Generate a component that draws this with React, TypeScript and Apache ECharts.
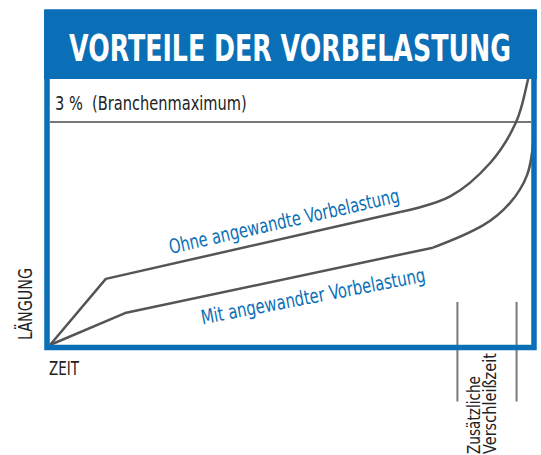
import React, { useEffect, useRef } from "react";
import * as echarts from "echarts";

const title = "VORTEILE DER VORBELASTUNG";
const limitLabel = "3 %  (Branchenmaximum)";
const limitValue = 3;
const yAxisName = "LÄNGUNG";
const xAxisName = "ZEIT";
const upperName = "Ohne angewandte Vorbelastung";
const lowerName = "Mit angewandter Vorbelastung";
const markerLines = ["Zusätzliche", "Verschleißzeit"];

// time (0..100) vs elongation (%)
const upperLinear = [[0, 0], [11.6, 0.89], [72.8, 1.79]];
const upperCurve = [[72.8, 1.79], [83.2, 2.0], [91.5, 2.45], [96.9, 3.0], [99.4, 3.58], [100.3, 3.9]];
const lowerLinear = [[0, 0], [15.6, 0.43], [79.6, 1.31]];
const lowerCurve = [[79.6, 1.31], [90.0, 1.61], [95.6, 1.91], [99.2, 2.29], [100.5, 2.75]];
const markerTimes = [84.7, 97.0];
const markerRange = [0.58, -0.76];

const BLUE = "#0a6fb7";
const CURVE = "#555555";
const FONT = "'DejaVu Sans Condensed', 'DejaVu Sans', sans-serif";

function measure(text: string, font: string): number {
  const ctx = document.createElement("canvas").getContext("2d")!;
  ctx.font = font;
  return ctx.measureText(text).width;
}

function fitText(text: string, font: string, target: number, extra: any) {
  const w = measure(text, font) || target;
  return {
    type: "text",
    z: 11,
    scaleX: target / w,
    ...extra,
    style: { text, font, ...(extra.style || {}) },
  };
}

export default function App() {
  const ref = useRef<HTMLDivElement>(null);
  useEffect(() => {
    const chart = echarts.init(ref.current!, null, { renderer: "svg" });
    const curveStyle = { color: CURVE, width: 2.5 };
    const series: any[] = [
      { type: "line", data: upperLinear, showSymbol: false, lineStyle: curveStyle, z: 3 },
      { type: "line", data: upperCurve, showSymbol: false, smooth: 0.35, lineStyle: curveStyle, z: 3 },
      { type: "line", data: lowerLinear, showSymbol: false, lineStyle: curveStyle, z: 3 },
      { type: "line", data: lowerCurve, showSymbol: false, smooth: 0.35, lineStyle: curveStyle, z: 3 },
      { type: "line", data: [[0, limitValue], [100, limitValue]], showSymbol: false, lineStyle: { color: "#777", width: 2 }, z: 2 },
    ];
    markerTimes.forEach((t) => {
      series.push({
        type: "line",
        data: [[t, markerRange[0]], [t, markerRange[1]]],
        showSymbol: false,
        clip: false,
        lineStyle: { color: "#7a7a7a", width: 2 },
        z: 2,
      });
    });
    chart.setOption({
      animation: false,
      grid: { left: 50, top: 79, width: 481, height: 266 },
      xAxis: { type: "value", min: 0, max: 100, show: false },
      yAxis: { type: "value", min: 0, max: 3.58, show: false },
      series,
      graphic: [
        { type: "rect", z: 10, shape: { x: 44, y: 10, width: 493, height: 69 }, style: { fill: BLUE } },
        { type: "rect", z: 10, shape: { x: 47, y: 12, width: 487, height: 335.5 }, style: { fill: "none", stroke: BLUE, lineWidth: 5.5 } },
        fitText(title, `bold 37px ${FONT}`, 442, { x: 290, y: 48, style: { fill: "#fff", align: "center", verticalAlign: "middle" } }),
        fitText(limitLabel, `19px ${FONT}`, 192, { x: 55, y: 104, style: { fill: "#222", align: "left", verticalAlign: "middle" } }),
        fitText(upperName, `20px ${FONT}`, 236, { x: 284, y: 221, rotation: 0.222, style: { fill: BLUE, align: "center", verticalAlign: "middle" } }),
        fitText(lowerName, `20px ${FONT}`, 228, { x: 313, y: 296, rotation: 0.19, style: { fill: BLUE, align: "center", verticalAlign: "middle" } }),
        fitText(yAxisName, `20px ${FONT}`, 72, { x: 25, y: 304, rotation: Math.PI / 2, style: { fill: "#222", align: "center", verticalAlign: "middle" } }),
        fitText(xAxisName, `20px ${FONT}`, 30, { x: 49, y: 368, style: { fill: "#222", align: "left", verticalAlign: "middle" } }),
        fitText(markerLines[0], `17px ${FONT}`, 78, { x: 466, y: 454, rotation: Math.PI / 2, style: { fill: "#222", align: "left", verticalAlign: "top" } }),
        fitText(markerLines[1], `17px ${FONT}`, 101, { x: 482, y: 454, rotation: Math.PI / 2, style: { fill: "#222", align: "left", verticalAlign: "top" } }),
      ],
    });
    return () => chart.dispose();
  }, []);
  return <div ref={ref} style={{ width: 541, height: 455, position: "absolute", left: 0, top: 0 }} />;
}
